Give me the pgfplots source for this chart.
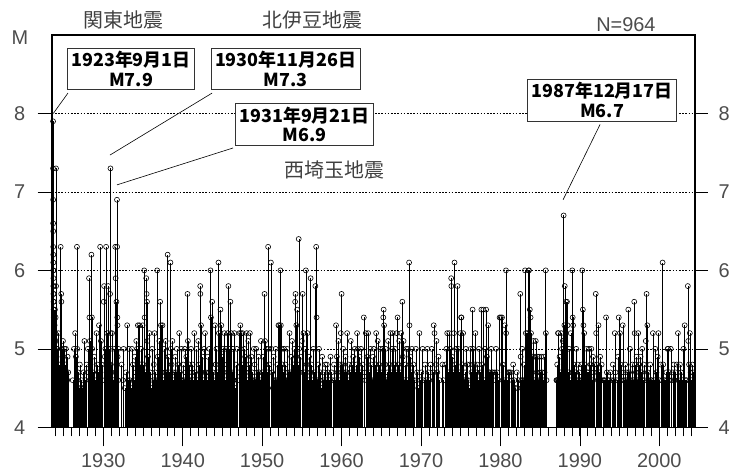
\documentclass[border=0pt]{standalone}
\usepackage{pgfplots}
\pgfplotsset{compat=1.18}
\usepackage{fontspec}
\setmainfont{Liberation Sans}
\newfontfamily\cjk{Noto Sans CJK JP}
\newfontfamily\lf{Liberation Sans}
\begin{document}
\begin{tikzpicture}
\begin{axis}[at={(0,0)}, anchor=south west, scale only axis,
  width=643.3bp, height=392.3bp,
  xmin=1923.5, xmax=2004.5, ymin=4, ymax=9,
  axis line style={draw=none},
  xtick={1930,1940,...,2000}, minor xtick={1924,...,2004},
  ytick=\empty, xtick pos=bottom, tick align=outside,
  major tick length=19bp, minor tick length=9bp,
  tick style={black, line width=0.6bp},
  xticklabel style={font=\lf\fontsize{20}{24}\selectfont, text=black!70, yshift=-4bp, /pgf/number format/1000 sep={}},
  /pgf/number format/assume math mode=true,
  clip=true]
\addplot[ycomb, black, line width=0.38bp, mark=o, mark size=2.5bp, mark options={draw=black, fill=white, line width=0.6bp, solid}] coordinates {
(1923.67,7.9) (1923.67,7.3) (1923.68,6.9) (1923.68,6.6) (1923.69,6.5) (1923.69,6.3) (1923.70,6.2) (1923.70,6.1) (1923.71,6.0) (1923.71,6.0)
(1923.72,5.9) (1923.72,5.8) (1923.73,5.8) (1923.73,5.7) (1923.74,5.7) (1923.74,5.6) (1923.75,5.6) (1923.75,5.5) (1923.76,5.5) (1923.76,5.4)
(1923.77,5.4) (1923.77,5.3) (1923.78,5.3) (1923.78,5.2) (1923.79,5.2) (1923.79,5.1) (1923.80,5.1) (1923.80,5.0) (1923.81,5.0) (1923.81,4.9)
(1923.82,4.9) (1923.82,4.8) (1923.83,4.8) (1923.83,4.7) (1923.84,4.7) (1923.84,4.6) (1923.85,4.6) (1923.85,4.5) (1923.86,4.5) (1923.87,5.3)
(1923.88,4.8) (1923.89,5.0) (1923.90,4.6) (1923.91,5.5) (1923.92,4.7) (1923.93,4.9) (1923.94,5.1) (1923.95,4.5) (1923.96,4.6) (1923.97,5.2)
(1923.98,4.8) (1923.99,4.7) (1924.00,5.4) (1924.01,4.6) (1924.02,4.5) (1924.03,4.9)
(1924.04,7.3) (1924.05,5.8) (1924.06,5.1) (1924.08,4.7) (1924.12,4.9) (1924.15,4.6) (1924.2,5.0) (1924.26,4.5) (1924.33,5.2) (1924.4,4.6)
(1924.47,4.8) (1924.55,4.5) (1924.63,6.3) (1924.7,5.7) (1924.72,5.6) (1924.78,5.0) (1924.85,4.7) (1924.92,5.1)
(1925.05,4.6) (1925.1,5.0) (1925.2,4.8) (1925.28,5.0) (1925.35,4.7) (1925.45,4.6) (1925.5,4.9) (1925.58,4.7)
(1926.15,4.6) (1926.3,5.0) (1926.45,5.2) (1926.55,4.9) (1926.68,6.3) (1926.72,5.0) (1926.8,4.7) (1926.9,4.5)
(1927.05,4.8) (1927.15,4.5) (1927.25,4.6) (1927.35,4.5) (1927.5,4.7) (1927.62,5.1) (1927.75,4.6) (1927.9,4.8)
(1928.05,5.0) (1928.12,4.7) (1928.2,5.9) (1928.25,5.4) (1928.3,5.1) (1928.38,4.8) (1928.45,4.6) (1928.5,6.2) (1928.56,5.4) (1928.6,5.0) (1928.7,4.7) (1928.85,4.9) (1928.95,4.6)
(1929.05,4.5) (1929.15,5.2) (1929.25,4.8) (1929.35,4.7) (1929.45,5.3) (1929.5,4.6) (1929.6,6.3) (1929.7,5.1) (1929.8,4.8) (1929.9,4.6)
(1930.05,5.6) (1930.1,5.8) (1930.18,4.9) (1930.25,5.0) (1930.35,6.3) (1930.4,4.7) (1930.48,5.2) (1930.55,4.6) (1930.62,5.8) (1930.68,5.0) (1930.75,4.8) (1930.85,5.7)
(1930.9,7.3) (1930.91,5.2) (1930.92,5.0) (1930.93,4.6) (1930.95,4.8) (1930.98,4.5)
(1931.05,4.7) (1931.1,5.2) (1931.2,4.5) (1931.3,4.6) (1931.4,5.0) (1931.5,6.3) (1931.55,5.9) (1931.6,4.7) (1931.65,5.6) (1931.72,6.9) (1931.74,6.3) (1931.76,5.4) (1931.78,5.3) (1931.8,4.9) (1931.85,4.6) (1931.9,5.0)
(1932.3,4.8) (1932.45,4.6) (1932.55,5.0) (1932.7,4.5) (1932.85,4.7)
(1933.0,5.3) (1933.1,4.6) (1933.2,5.0) (1933.35,4.6) (1933.5,4.5) (1933.6,5.0) (1933.72,4.8) (1933.85,4.6) (1933.95,4.9)
(1934.05,4.7) (1934.15,5.1) (1934.25,5.0) (1934.35,5.3) (1934.45,4.6) (1934.55,5.3) (1934.65,4.8) (1934.75,5.0) (1934.85,4.5) (1934.95,5.3)
(1935.05,4.8) (1935.15,6.0) (1935.2,5.4) (1935.3,4.7) (1935.4,5.9) (1935.45,5.7) (1935.5,5.6) (1935.55,5.1) (1935.62,4.9) (1935.7,4.6) (1935.8,5.2) (1935.9,4.7)
(1936.05,4.5) (1936.15,5.0) (1936.25,4.6) (1936.35,4.8) (1936.45,5.2) (1936.55,4.7) (1936.65,4.6) (1936.78,6.0) (1936.85,4.9) (1936.95,4.6)
(1937.05,5.1) (1937.15,5.6) (1937.25,5.3) (1937.35,4.7) (1937.45,5.3) (1937.55,4.6) (1937.65,5.0) (1937.75,4.7) (1937.85,5.1) (1937.95,4.7)
(1938.05,4.6) (1938.1,6.2) (1938.2,4.9) (1938.3,4.7) (1938.45,6.1) (1938.5,5.0) (1938.6,4.8) (1938.7,5.1) (1938.8,4.6) (1938.9,4.7)
(1939.05,4.9) (1939.15,4.7) (1939.25,5.0) (1939.35,4.6) (1939.45,4.8) (1939.55,5.2) (1939.65,4.7) (1939.75,4.6) (1939.85,5.0) (1939.95,4.6)
(1940.05,4.8) (1940.15,4.6) (1940.25,5.0) (1940.35,4.7) (1940.45,4.9) (1940.6,5.7) (1940.65,5.1) (1940.75,4.6) (1940.85,4.8) (1940.95,4.6)
(1941.05,5.0) (1941.15,4.7) (1941.25,4.8) (1941.35,4.6) (1941.45,5.2) (1941.55,4.7) (1941.65,4.5) (1941.75,5.0) (1941.85,4.6) (1941.95,5.1)
(1942.05,4.8) (1942.2,5.8) (1942.22,5.7) (1942.3,5.3) (1942.4,4.7) (1942.5,4.9) (1942.6,4.6) (1942.7,5.0) (1942.8,5.2) (1942.9,4.7)
(1943.05,4.6) (1943.15,4.9) (1943.25,4.7) (1943.35,5.0) (1943.5,6.0) (1943.55,5.4) (1943.6,4.8) (1943.7,5.6) (1943.8,4.7) (1943.9,4.6)
(1944.05,5.3) (1944.15,4.8) (1944.25,5.0) (1944.35,4.7) (1944.5,6.1) (1944.55,5.2) (1944.65,4.6) (1944.75,5.5) (1944.85,5.3) (1944.95,4.9)
(1945.05,5.0) (1945.15,4.7) (1945.25,5.2) (1945.35,4.6) (1945.45,5.0) (1945.55,4.8) (1945.65,5.2) (1945.75,5.8) (1945.85,5.0) (1945.95,4.7)
(1946.0,5.6) (1946.1,5.2) (1946.2,4.7) (1946.3,5.0) (1946.4,4.6) (1946.5,5.2) (1946.6,4.5) (1946.7,4.8) (1946.8,5.0) (1946.9,4.6)
(1947.05,4.7) (1947.15,5.2) (1947.25,5.3) (1947.35,5.2) (1947.45,4.8) (1947.55,5.2) (1947.65,4.6) (1947.75,5.0) (1947.85,4.9) (1947.95,4.7)
(1948.05,5.2) (1948.15,4.6) (1948.25,5.1) (1948.35,4.8) (1948.45,5.2) (1948.55,4.6) (1948.65,4.9) (1948.75,4.7) (1948.85,4.6) (1948.95,5.0)
(1949.05,4.8) (1949.15,4.6) (1949.25,5.0) (1949.35,4.7) (1949.45,4.6) (1949.55,4.9) (1949.65,4.7) (1949.75,4.6) (1949.85,5.1) (1949.95,4.5)
(1950.05,4.7) (1950.15,4.9) (1950.3,5.7) (1950.35,5.1) (1950.45,4.8) (1950.55,5.0) (1950.65,4.7) (1950.75,6.3) (1950.8,5.0) (1950.9,4.8)
(1951.1,6.1) (1951.15,5.0) (1951.25,4.7) (1951.35,4.5) (1951.45,4.9) (1951.55,4.6) (1951.7,5.0) (1951.8,4.6) (1951.9,4.8)
(1952.05,5.3) (1952.15,5.3) (1952.3,6.0) (1952.35,5.3) (1952.45,5.0) (1952.55,4.8) (1952.65,4.7) (1952.75,5.0) (1952.85,4.6) (1952.95,4.8)
(1953.05,4.6) (1953.15,5.0) (1953.25,4.7) (1953.35,4.6) (1953.45,5.2) (1953.55,4.7) (1953.65,4.9) (1953.75,5.1) (1953.85,4.6) (1953.95,4.8)
(1954.05,5.0) (1954.15,5.6) (1954.2,5.7) (1954.3,5.3) (1954.4,5.5) (1954.5,4.8) (1954.6,6.4) (1954.65,5.0) (1954.75,4.7) (1954.85,4.9)
(1955.0,5.1) (1955.1,5.7) (1955.2,5.2) (1955.3,4.7) (1955.4,5.0) (1955.5,6.0) (1955.6,4.8) (1955.7,5.2) (1955.8,4.6) (1955.9,4.9)
(1956.05,4.7) (1956.1,5.9) (1956.2,4.8) (1956.3,4.6) (1956.45,5.0) (1956.55,4.7) (1956.7,5.8) (1956.8,6.3) (1956.85,5.4) (1956.95,4.6)
(1957.05,4.8) (1957.15,5.0) (1957.25,4.6) (1957.35,4.7) (1957.45,4.5) (1957.55,4.9) (1957.65,4.6) (1957.75,4.7) (1957.85,4.5) (1957.95,4.8)
(1958.05,4.6) (1958.15,4.8) (1958.3,4.7) (1958.45,4.6) (1958.6,4.9) (1958.75,4.7) (1958.9,4.6)
(1959.05,4.8) (1959.15,4.6) (1959.3,5.3) (1959.4,4.9) (1959.5,4.7) (1959.6,5.1) (1959.7,4.6) (1959.8,4.8) (1959.9,5.2)
(1960.0,5.7) (1960.1,4.8) (1960.2,5.0) (1960.3,4.7) (1960.4,4.6) (1960.5,4.9) (1960.6,4.7) (1960.7,5.2) (1960.8,4.6) (1960.9,4.8)
(1961.05,4.7) (1961.15,5.1) (1961.25,4.6) (1961.35,4.8) (1961.45,4.9) (1961.55,4.6) (1961.65,5.0) (1961.75,4.7) (1961.85,4.8) (1961.95,5.2)
(1962.05,5.0) (1962.15,4.6) (1962.25,4.9) (1962.35,4.7) (1962.45,5.0) (1962.55,4.6) (1962.65,4.8) (1962.8,5.4) (1962.9,4.7)
(1963.05,5.2) (1963.15,4.6) (1963.25,4.9) (1963.35,5.2) (1963.45,4.7) (1963.55,4.6) (1963.65,5.0) (1963.75,4.8) (1963.85,4.6) (1963.95,4.9)
(1964.05,5.0) (1964.15,4.6) (1964.25,4.8) (1964.35,5.2) (1964.45,4.7) (1964.55,5.1) (1964.65,4.6) (1964.75,4.8) (1964.85,5.0) (1964.95,4.7)
(1965.05,4.6) (1965.15,5.0) (1965.25,5.4) (1965.3,5.5) (1965.35,5.3) (1965.45,4.8) (1965.55,5.0) (1965.65,4.6) (1965.75,4.7) (1965.85,5.1) (1965.95,4.6)
(1966.05,4.8) (1966.15,5.2) (1966.25,4.7) (1966.35,5.0) (1966.45,5.2) (1966.55,4.6) (1966.65,4.8) (1966.75,5.0) (1966.85,4.7) (1966.95,5.2)
(1967.05,5.4) (1967.15,4.8) (1967.25,5.1) (1967.35,4.7) (1967.5,5.2) (1967.65,5.6) (1967.7,4.9) (1967.8,5.1) (1967.9,4.6)
(1968.05,4.8) (1968.15,5.0) (1968.25,4.6) (1968.35,5.0) (1968.5,6.1) (1968.55,5.3) (1968.65,4.9) (1968.75,4.7) (1968.85,5.0) (1968.95,4.6)
(1969.05,4.8) (1969.2,4.6) (1969.35,5.0) (1969.5,4.7) (1969.65,4.5) (1969.8,5.2) (1969.9,4.6)
(1970.05,4.7) (1970.2,5.0) (1970.35,4.6) (1970.5,4.8) (1970.65,4.6) (1970.8,5.0) (1970.95,4.7)
(1971.05,4.6) (1971.2,4.8) (1971.35,5.0) (1971.5,4.7) (1971.6,5.3) (1971.7,5.2) (1971.85,4.8) (1971.95,5.1)
(1972.05,4.7) (1972.2,4.9) (1972.35,4.6) (1972.7,4.8) (1972.85,4.6)
(1973.05,4.8) (1973.2,5.0) (1973.3,5.2) (1973.45,4.7) (1973.55,5.2) (1973.65,5.0) (1973.8,5.9) (1973.82,5.8) (1973.9,4.9)
(1974.05,4.7) (1974.15,5.2) (1974.22,6.1) (1974.3,4.8) (1974.4,5.0) (1974.5,4.6) (1974.6,5.8) (1974.7,5.0) (1974.85,4.7) (1974.95,5.2)
(1975.05,5.4) (1975.1,5.4) (1975.2,4.8) (1975.3,5.2) (1975.45,4.6) (1975.55,4.7) (1975.65,5.0) (1975.75,4.6) (1975.85,4.8) (1975.95,4.6)
(1976.05,4.5) (1976.15,4.8) (1976.25,5.0) (1976.35,4.7) (1976.5,5.5) (1976.55,5.0) (1976.65,4.6) (1976.75,4.8) (1976.85,5.2) (1976.95,4.7)
(1977.05,4.8) (1977.15,4.6) (1977.3,5.0) (1977.45,4.7) (1977.6,5.5) (1977.7,4.8) (1977.85,5.5) (1977.95,4.6)
(1978.05,5.0) (1978.2,5.5) (1978.3,4.9) (1978.45,5.3) (1978.55,4.7) (1978.65,4.7) (1978.75,4.5) (1978.85,5.0) (1978.95,4.7)
(1979.05,4.7) (1979.15,4.6) (1979.3,4.7) (1979.45,5.0) (1979.6,4.7) (1979.75,4.6) (1979.9,5.4)
(1980.05,5.4) (1980.2,5.4) (1980.3,4.8) (1980.45,4.6) (1980.55,5.3) (1980.7,6.0) (1980.72,5.2) (1980.85,4.6) (1980.95,4.7)
(1981.05,4.7) (1981.15,4.7) (1981.3,4.7) (1981.45,4.6) (1981.6,4.8) (1981.75,4.6) (1981.9,4.5)
(1982.05,4.7) (1982.15,4.5) (1982.3,4.6) (1982.5,5.7) (1982.55,4.9) (1982.65,4.6) (1982.75,5.0) (1982.85,4.6) (1982.95,4.8)
(1983.05,4.6) (1983.1,6.0) (1983.2,5.2) (1983.3,4.6) (1983.4,5.2) (1983.55,6.0) (1983.6,6.0) (1983.7,5.5) (1983.8,5.4) (1983.85,5.2) (1983.95,4.6)
(1984.05,4.9) (1984.15,5.1) (1984.25,4.6) (1984.35,4.9) (1984.45,5.1) (1984.55,4.7) (1984.65,4.9) (1984.75,4.6) (1984.85,4.9) (1984.95,4.7)
(1985.05,4.6) (1985.15,4.9) (1985.25,4.7) (1985.35,4.6) (1985.45,4.9) (1985.55,4.7) (1985.7,6.0) (1985.72,5.2) (1985.8,4.6)
(1987.05,4.6) (1987.1,4.6) (1987.15,4.8) (1987.2,4.6) (1987.25,5.2) (1987.3,5.2) (1987.35,4.6) (1987.45,4.9) (1987.55,4.7) (1987.65,5.2) (1987.75,5.0) (1987.85,5.1)
(1987.96,6.7) (1987.97,5.0) (1987.98,4.8)
(1988.05,5.3) (1988.1,5.8) (1988.15,5.1) (1988.25,5.6) (1988.3,4.6) (1988.38,5.6) (1988.45,5.3) (1988.55,4.7) (1988.65,5.0) (1988.75,4.6) (1988.85,5.2) (1988.95,4.7)
(1989.05,6.0) (1989.1,5.4) (1989.15,5.3) (1989.25,4.8) (1989.35,4.6) (1989.45,4.7) (1989.55,5.0) (1989.65,4.6) (1989.75,4.8) (1989.85,4.6) (1989.95,4.7)
(1990.05,4.6) (1990.2,4.8) (1990.3,6.0) (1990.38,5.5) (1990.45,5.3) (1990.55,5.2) (1990.65,4.8) (1990.75,4.6) (1990.85,5.0) (1990.95,4.7)
(1991.05,4.7) (1991.15,5.0) (1991.25,4.6) (1991.35,4.8) (1991.45,5.0) (1991.55,4.6) (1991.65,4.9) (1991.75,4.7) (1991.85,4.8)
(1992.0,5.7) (1992.05,5.2) (1992.15,4.8) (1992.25,4.6) (1992.35,5.3) (1992.45,4.7) (1992.55,4.9) (1992.65,4.6) (1992.75,4.8) (1992.9,4.6)
(1993.05,4.6) (1993.15,4.6) (1993.3,5.4) (1993.4,4.7) (1993.55,4.6) (1993.7,4.6) (1993.85,4.7)
(1994.05,4.6) (1994.15,4.8) (1994.3,4.6) (1994.4,5.2) (1994.5,4.7) (1994.65,4.6) (1994.8,4.9) (1994.9,5.4)
(1995.05,5.2) (1995.15,4.8) (1995.25,4.6) (1995.4,5.3) (1995.5,4.7) (1995.6,4.6) (1995.7,4.8) (1995.85,4.6) (1995.95,4.7)
(1996.1,5.5) (1996.2,4.7) (1996.3,5.0) (1996.45,4.6) (1996.6,4.8) (1996.75,4.6) (1996.85,5.6) (1996.9,5.2) (1996.95,4.8)
(1997.05,4.7) (1997.15,4.9) (1997.25,4.6) (1997.35,5.2) (1997.45,4.8) (1997.55,4.6) (1997.65,4.9) (1997.75,4.7) (1997.85,5.0) (1997.95,4.6)
(1998.05,4.8) (1998.15,4.6) (1998.3,5.1) (1998.4,5.7) (1998.5,5.3) (1998.55,4.7) (1998.7,4.6) (1998.85,4.8) (1998.95,4.6)
(1999.05,4.6) (1999.2,5.2) (1999.35,4.6) (1999.5,5.0) (1999.65,4.7) (1999.8,4.9) (1999.9,5.2)
(2000.05,4.6) (2000.2,4.8) (2000.35,4.6) (2000.42,6.1) (2000.5,4.8) (2000.6,4.6) (2000.75,4.6) (2000.9,4.7)
(2001.05,5.0) (2001.1,5.0) (2001.2,4.6) (2001.3,4.7) (2001.45,5.0) (2001.55,4.6) (2001.7,4.7) (2001.85,4.8) (2001.95,4.6)
(2002.05,4.7) (2002.2,4.8) (2002.35,5.2) (2002.45,4.6) (2002.6,4.8) (2002.75,4.7) (2002.9,4.6)
(2003.05,5.0) (2003.2,5.3) (2003.3,4.6) (2003.45,4.6) (2003.6,5.8) (2003.65,5.1) (2003.75,4.8) (2003.85,5.2) (2003.95,4.7)
(2004.05,4.6) (2004.15,4.8) (2004.25,4.7)
};
\end{axis}
\begin{axis}[at={(0,0)}, anchor=south west, scale only axis,
  width=643.3bp, height=392.3bp,
  xmin=1923.5, xmax=2004.5, ymin=4, ymax=9,
  axis line style={draw=none}, xtick=\empty,
  ytick={4,5,6,7,8}, ytick pos=left, tick align=outside,
  major tick length=14bp, tick style={black, line width=0.6bp},
  ymajorgrids, grid style={black, line width=0.5bp, dash pattern=on 1.6bp off 1.6bp},
  yticklabel style={font=\lf\fontsize{20}{24}\selectfont, text=black!70, xshift=-9bp},
  /pgf/number format/assume math mode=true]
\end{axis}
\begin{axis}[at={(0,0)}, anchor=south west, scale only axis,
  width=643.3bp, height=392.3bp,
  xmin=1923.5, xmax=2004.5, ymin=4, ymax=9,
  axis line style={draw=none}, xtick=\empty,
  ytick={4,5,6,7,8}, ytick pos=right, yticklabel pos=right, tick align=outside,
  major tick length=13bp, tick style={black, line width=0.6bp},
  yticklabel style={font=\lf\fontsize{20}{24}\selectfont, text=black!70, xshift=7bp},
  /pgf/number format/assume math mode=true, clip=false]
\draw[line width=2.2bp] (rel axis cs:0,0) -- (rel axis cs:0,1) -- (rel axis cs:1,1) -- (rel axis cs:1,0);
\draw[line width=0.8bp] (rel axis cs:0,0) -- (rel axis cs:1,0);
\draw[line width=0.6bp] (axis cs:1925.55,8.26) -- (axis cs:1923.7,8.0);
\draw[line width=0.6bp] (axis cs:1943.7,8.26) -- (axis cs:1930.84,7.47);
\draw[line width=0.6bp] (axis cs:1946.33,7.56) -- (axis cs:1931.72,7.09);
\draw[line width=0.6bp] (axis cs:1992.55,7.86) -- (axis cs:1987.89,6.9);
\tikzset{box/.style={draw=black!80, line width=0.7bp, fill=white, align=center, inner xsep=4bp, inner ysep=3bp,
  font=\cjk\bfseries\fontsize{18}{20}\selectfont}}
\node[box] at (axis cs:1933.49,8.57) {1923年9月1日\\M7.9};
\node[box] at (axis cs:1952.95,8.57) {1930年11月26日\\M7.3};
\node[box] at (axis cs:1955.34,7.86) {1931年9月21日\\M6.9};
\node[box] at (axis cs:1992.8,8.17) {1987年12月17日\\M6.7};
\tikzset{ttl/.style={font=\cjk\fontsize{20}{24}\selectfont, text=black!75, inner sep=0pt}}
\node[ttl] at (axis cs:1932.5,9.19) {関東地震};
\node[ttl] at (axis cs:1956.3,9.19) {北伊豆地震};
\node[ttl] at (axis cs:1959.1,7.28) {西埼玉地震};
\node[font=\lf\fontsize{20}{24}\selectfont, text=black!70, inner sep=0pt] at (axis cs:1995.8,9.13) {N=964};
\node[font=\lf\fontsize{20}{24}\selectfont, text=black!70, inner sep=0pt] at (axis cs:1919.5,8.97) {M};
\end{axis}
\pgfresetboundingbox
\path (-51.7bp,-47.7bp) rectangle (683.3bp,427.3bp);
\end{tikzpicture}
\end{document}
